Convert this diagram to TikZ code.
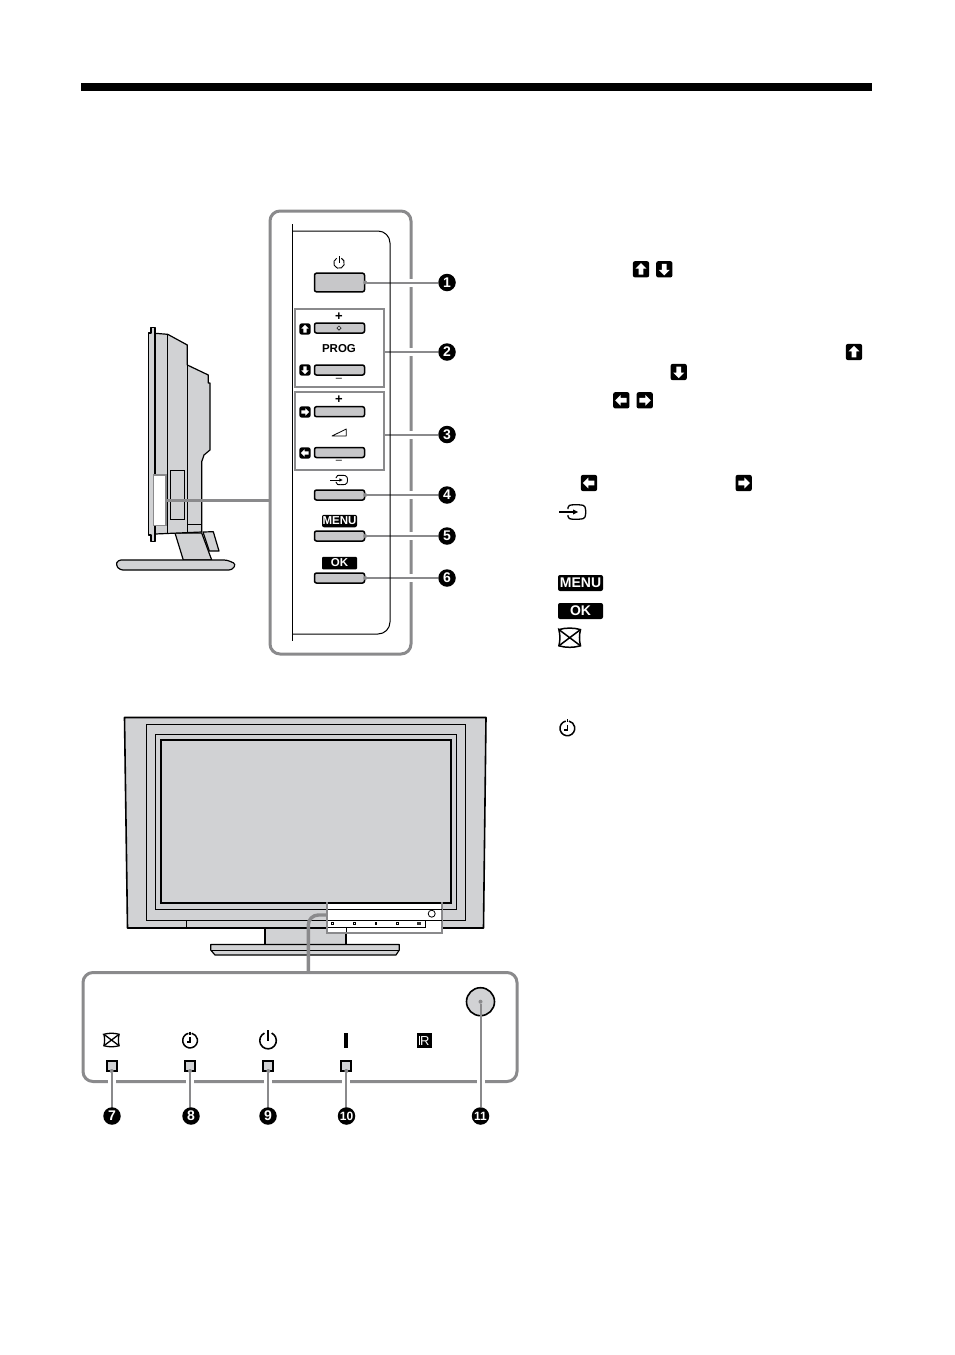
\documentclass[tikz,border=0pt]{standalone}
\usepackage{fontspec}
\setmainfont{Liberation Sans}
\usetikzlibrary{shapes.geometric}
\definecolor{leadgrey}{HTML}{8A8A8C}
\definecolor{tvgrey}{HTML}{D1D2D4}
\pgfdeclarelayer{panels}
\pgfdeclarelayer{leads}
\pgfsetlayers{panels,leads,main}
\tikzset{
  panelbox/.style={draw=leadgrey,line width=3,rounded corners=10,inner sep=0},
  groupbox/.style={draw=leadgrey,line width=1.5,inner sep=0},
  btn/.style={draw,line width=1.5,fill=tvgrey!95!black,rounded corners=2,minimum width=50,inner sep=0},
  led/.style={draw,line width=1.8,fill=tvgrey,minimum size=10,inner sep=0},
  callout/.style={circle,fill=black,text=white,minimum size=17.5,inner sep=0,font=\fontsize{14}{14}\bfseries\selectfont},
  smallcallout/.style={callout,font=\fontsize{12}{12}\bfseries\selectfont},
  leaddot/.style={circle,fill=leadgrey,minimum size=4,inner sep=0},
  leadline/.style={draw=leadgrey,line width=2},
  lead/.style={leadline,preaction={draw=white,line width=8}},
  keylabel/.style={fill=black,text=white,rounded corners=2,inner sep=0},
  tvline/.style={draw,line width=1.2,fill=tvgrey,line join=round},
  arrowkey/.pic={
    \fill[black,rounded corners=2] (-6,-6) rectangle (6,6);
    \fill[white] (0,-4.5) -- (4,-.5) -- (1.8,-.5) -- (1.8,4) -- (-1.8,4) -- (-1.8,-.5) -- (-4,-.5) -- cycle;
  },
  inputkey/.pic={
    \draw (-13.5,0) -- (1,0);
    \fill (5.5,0) -- (.5,-2.6) -- (.5,2.6) -- cycle;
    \draw[rounded corners=1.5] (-4.5,-3) -- (-4.5,-6) .. controls (-1,-7.5) and (6,-7.5) .. (12,-6.5) .. controls (13.5,-2) and (13.5,2) .. (12,6.5) .. controls (6,7.5) and (-1,7.5) .. (-4.5,6) -- (-4.5,3);
  },
  picoff/.pic={
    \draw (-8,-6) .. controls (-3,-7.5) and (3,-7.5) .. (8,-6) .. controls (7,-2) and (7,2) .. (8,6) .. controls (3,7.5) and (-3,7.5) .. (-8,6) .. controls (-7,2) and (-7,-2) .. cycle;
    \draw (-8,-6) -- (8,6) (8,-6) -- (-8,6);
  },
  timerkey/.pic={
    \draw (-1.6,-7.2) arc (257:-77:7.4);
    \draw (0,-9) -- (0,-6);
    \draw (0,-3.5) -- (0,1.5) -- (-3.5,1.5);
  },
  powerkey/.pic={
    \draw (-3.2,-6.6) arc (244:-64:7.4);
    \draw (0,-9.2) -- (0,0);
  },
}
\begin{document}
\begin{tikzpicture}[x=1pt,y=-1pt]
\useasboundingbox (0,0) rectangle (954,1355);
\fill (81,83) rectangle (872,91);
% side view of the set
\begin{pgfonlayer}{panels}
\node (sidepanel) [panelbox,minimum width=141,minimum height=443] at (340.5,432.5) {};
\node (ledpanel) [panelbox,minimum width=434,minimum height=109] at (300,1027) {};
\end{pgfonlayer}
\draw[tvline] (203,532) -- (213.3,531.7) -- (219,551) -- (209.3,551) -- cycle;
\draw[tvline] (175,533) -- (183.3,560) -- (211.7,560) -- (201.7,533) -- cycle;
\draw[tvline,rounded corners=3] (118,560) -- (227,560) -- (236,564) -- (232,570) -- (120,570) -- (115.7,565) -- cycle;
\draw[tvline] (155,333.3) -- (167.7,334.3) -- (187.3,345) -- (187.3,365) -- (208.3,375) -- (208.3,383) -- (210,383) -- (210,450) -- (204,455) -- (201.7,461.7) -- (201.7,532) -- (155,534) -- cycle;
\draw[tvline] (148.3,333) -- (151,333) -- (151,327.3) -- (155,327.3) -- (155,541.7) -- (151,541.7) -- (151,535) -- (148.3,535) -- cycle;
\draw[line width=1] (167.7,334.3) -- (167.7,533) (187.3,365) -- (187.3,532) (187.3,524) -- (201.7,524);
\draw[line width=1] (170,470.3) rectangle (184.3,519);
\node (sidebox) [groupbox,fill=white,minimum width=12.7,minimum height=50.7] at (159.7,500.3) {};
\draw[leadline,line width=3.4] (sidebox.east) -- (sidebox.east -| sidepanel.west);
% control column
\draw[line width=1] (292,224) -- (292,641);
\draw[line width=1,rounded corners=12] (292,231) -- (390,231) -- (390,634) -- (292,634);
\node (powerbtn) [btn,minimum height=18.6] at (339.5,282.5) {};
\pic at (339,263) [scale=.72,line width=.9] {powerkey};
\node (progbox) [groupbox,minimum width=89,minimum height=78] at (339.5,348) {};
\node (progup) [btn,minimum height=10] at (339.5,328) {};
\node (progdown) [btn,minimum height=10] at (339.5,370) {};
\node (progplus) [font=\fontsize{13}{13}\bfseries\selectfont,inner sep=0] at (339,316.7) {+};
\node (progmark) [diamond,draw,line width=.5,minimum size=4.5,inner sep=0] at (339,328) {};
\node (progtext) [font=\fontsize{11.5}{12}\bfseries\selectfont,inner sep=0] at (339,349) {PROG};
\node (progminus) [font=\fontsize{11}{11}\selectfont,inner sep=0] at (339,379.5) {–};
\pic at (305,329) [scale=.92] {arrowkey};
\pic at (305,370) [scale=.92,rotate=180] {arrowkey};
\node (volbox) [groupbox,minimum width=89,minimum height=78] at (339.5,431) {};
\node (volup) [btn,minimum height=10] at (339.5,411.7) {};
\node (voldown) [btn,minimum height=10] at (339.5,452.5) {};
\node (volplus) [font=\fontsize{13}{13}\bfseries\selectfont,inner sep=0] at (339,399.5) {+};
\draw[line width=.8,line join=round] (332,436) -- (346.3,429) -- (346.3,436) -- cycle;
\node (volminus) [font=\fontsize{11}{11}\selectfont,inner sep=0] at (339,462) {–};
\pic at (305,412) [scale=.92,rotate=-90] {arrowkey};
\pic at (305,453) [scale=.92,rotate=90] {arrowkey};
\pic at (339,480) [scale=.64,line width=.9] {inputkey};
\node (inputbtn) [btn,minimum height=10] at (339.5,495) {};
\node (menulabel) [keylabel,minimum width=35,minimum height=12.5,font=\fontsize{11.5}{12}\bfseries\selectfont] at (339.5,521) {MENU};
\node (menubtn) [btn,minimum height=10] at (339.5,536) {};
\node (oklabel) [keylabel,minimum width=35,minimum height=12.5,rounded corners=1,font=\fontsize{11.5}{12}\bfseries\selectfont] at (339.5,563) {OK};
\node (okbtn) [btn,minimum height=10] at (339.5,578) {};
% numbered leads of the column
\node (n1) [callout] at (447,282.5) {1};
\node (n2) [callout] at (447,352) {2};
\node (n3) [callout] at (447,434.5) {3};
\node (n4) [callout] at (447,495) {4};
\node (n5) [callout] at (447,536) {5};
\node (n6) [callout] at (447,578) {6};
\node (d1) [leaddot] at (powerbtn.east) {};
\node (d4) [leaddot] at (inputbtn.east) {};
\node (d5) [leaddot] at (menubtn.east) {};
\node (d6) [leaddot] at (okbtn.east) {};
\begin{pgfonlayer}{leads}
\draw[lead] (d1) -- (n1);
\draw[lead] (n2 -| progbox.east) -- (n2);
\draw[lead] (n3 -| volbox.east) -- (n3);
\draw[lead] (d4) -- (n4);
\draw[lead] (d5) -- (n5);
\draw[lead] (d6) -- (n6);
\end{pgfonlayer}
% front view of the set
\draw[tvline] (265,926) -- (265,945) -- (346,945) -- (346,926) -- cycle;
\draw[tvline] (210.7,944.5) -- (399.3,944.5) -- (399.3,950) -- (396,955) -- (215,955) -- (210.7,950) -- cycle;
\draw[line width=.5] (211,950) -- (399,950);
\draw[tvline,line width=1.6] (124.5,717.5) -- (486,717.5) -- (483.5,928) -- (127.5,928) -- cycle;
\draw[line width=1] (146.7,724.3) rectangle (465.5,920.7);
\draw[line width=1] (155.3,734) rectangle (456,909);
\draw[line width=2] (160.7,740) rectangle (451,903);
\draw[line width=1] (186.7,920.7) -- (186.7,928);
\node (stripbox) [groupbox,line width=1.8,fill=white,minimum width=115.3,minimum height=29.7] at (384.4,918) {};
\draw[line width=2] (327.5,903) -- (441,903);
\draw[line width=.8] (327.5,909.3) -- (441.5,909.3);
\draw[line width=.8] (327.5,920.5) -- (441.5,920.5) (425.3,920.5) -- (425.3,927.5);
\draw[line width=1.4] (327.5,927.5) -- (425.3,927.5);
\draw[line width=1] (346,927.5) -- (346,932);
\node (stripeye) [circle,draw,line width=.8,minimum size=7,inner sep=0] at (431.7,913.7) {};
\node (strip7) [draw,line width=.8,minimum size=2.5,inner sep=0] at (332.3,923.5) {};
\node (strip8) [draw,line width=.8,minimum size=2.5,inner sep=0] at (354.3,923.5) {};
\node (strip9) [fill=black,minimum width=1.5,minimum height=3.5,inner sep=0] at (376,923.5) {};
\node (strip10) [draw,line width=.8,minimum size=2.5,inner sep=0] at (397.3,923.5) {};
\node (strip11) [fill=black!80,minimum size=3.5,inner sep=0] at (419,923.5) {};
\draw[leadline,line width=3.4,rounded corners=10] ([yshift=3pt]stripbox.west) -| ([xshift=8.3pt]ledpanel.north);
% indicator strip
\pic at (111.5,1040) [scale=.95,line width=1.3] {picoff};
\pic at (190,1040.5) [line width=1.5] {timerkey};
\pic at (268,1040.5) [scale=1.12,line width=1.6] {powerkey};
\node (barmark) [fill=black,minimum width=4,minimum height=15,inner sep=0] at (345.5,1040.5) {};
\node (irmark) [fill=black,text=white,minimum size=15,inner sep=0,font=\fontsize{13}{13}\selectfont] at (424,1040.5) {\rule{1pt}{9pt}\kern.5pt R};
\node (led7) [led] at (111.7,1065.7) {};
\node (led8) [led] at (190,1065.7) {};
\node (led9) [led] at (268.3,1065.7) {};
\node (led10) [led] at (346.3,1065.7) {};
\node (sensor) [circle,draw,line width=1.6,fill=tvgrey,minimum size=28,inner sep=0] at (480.5,1001.7) {};
\node (n7) [callout] at (112,1116) {7};
\node (n8) [callout] at (191,1116) {8};
\node (n9) [callout] at (268,1116) {9};
\node (n10) [smallcallout] at (346.5,1116) {10};
\node (n11) [smallcallout] at (480.5,1116) {11};
\node (d7) [leaddot] at (111.7,1071) {};
\node (d8) [leaddot] at (190,1071) {};
\node (d9) [leaddot] at (268.3,1071) {};
\node (d10) [leaddot] at (346.3,1071) {};
\node (d11) [leaddot] at (sensor.center) {};
\draw[leadline] (d11) -- (sensor.south);
\begin{pgfonlayer}{leads}
\draw[lead] (d7) -- (d7 |- n7);
\draw[lead] (d8) -- (d8 |- n8);
\draw[lead] (d9) -- (d9 |- n9);
\draw[lead] (d10) -- (d10 |- n10);
\draw[lead] (sensor.south) -- (n11);
\end{pgfonlayer}
% key symbols of the list at the right
\pic at (641,269.3) [scale=1.35] {arrowkey};
\pic at (664.3,269.3) [scale=1.35,rotate=180] {arrowkey};
\pic at (854,352) [scale=1.35] {arrowkey};
\pic at (678.7,372) [scale=1.35,rotate=180] {arrowkey};
\pic at (621.3,400.3) [scale=1.35,rotate=90] {arrowkey};
\pic at (644.7,400.3) [scale=1.35,rotate=-90] {arrowkey};
\pic at (589,483) [scale=1.35,rotate=90] {arrowkey};
\pic at (743.7,483) [scale=1.35,rotate=-90] {arrowkey};
\pic at (572.5,512) [line width=1.3] {inputkey};
\node (menukey) [keylabel,minimum width=45,minimum height=16,font=\fontsize{14}{14}\bfseries\selectfont] at (580.5,583) {MENU};
\node (okkey) [keylabel,minimum width=45,minimum height=16,font=\fontsize{14}{14}\bfseries\selectfont] at (580.5,611) {OK};
\pic at (569.7,637.7) [scale=1.35,line width=1.5] {picoff};
\pic at (567.3,728.3) [line width=1.5] {timerkey};
\end{tikzpicture}
\end{document}
